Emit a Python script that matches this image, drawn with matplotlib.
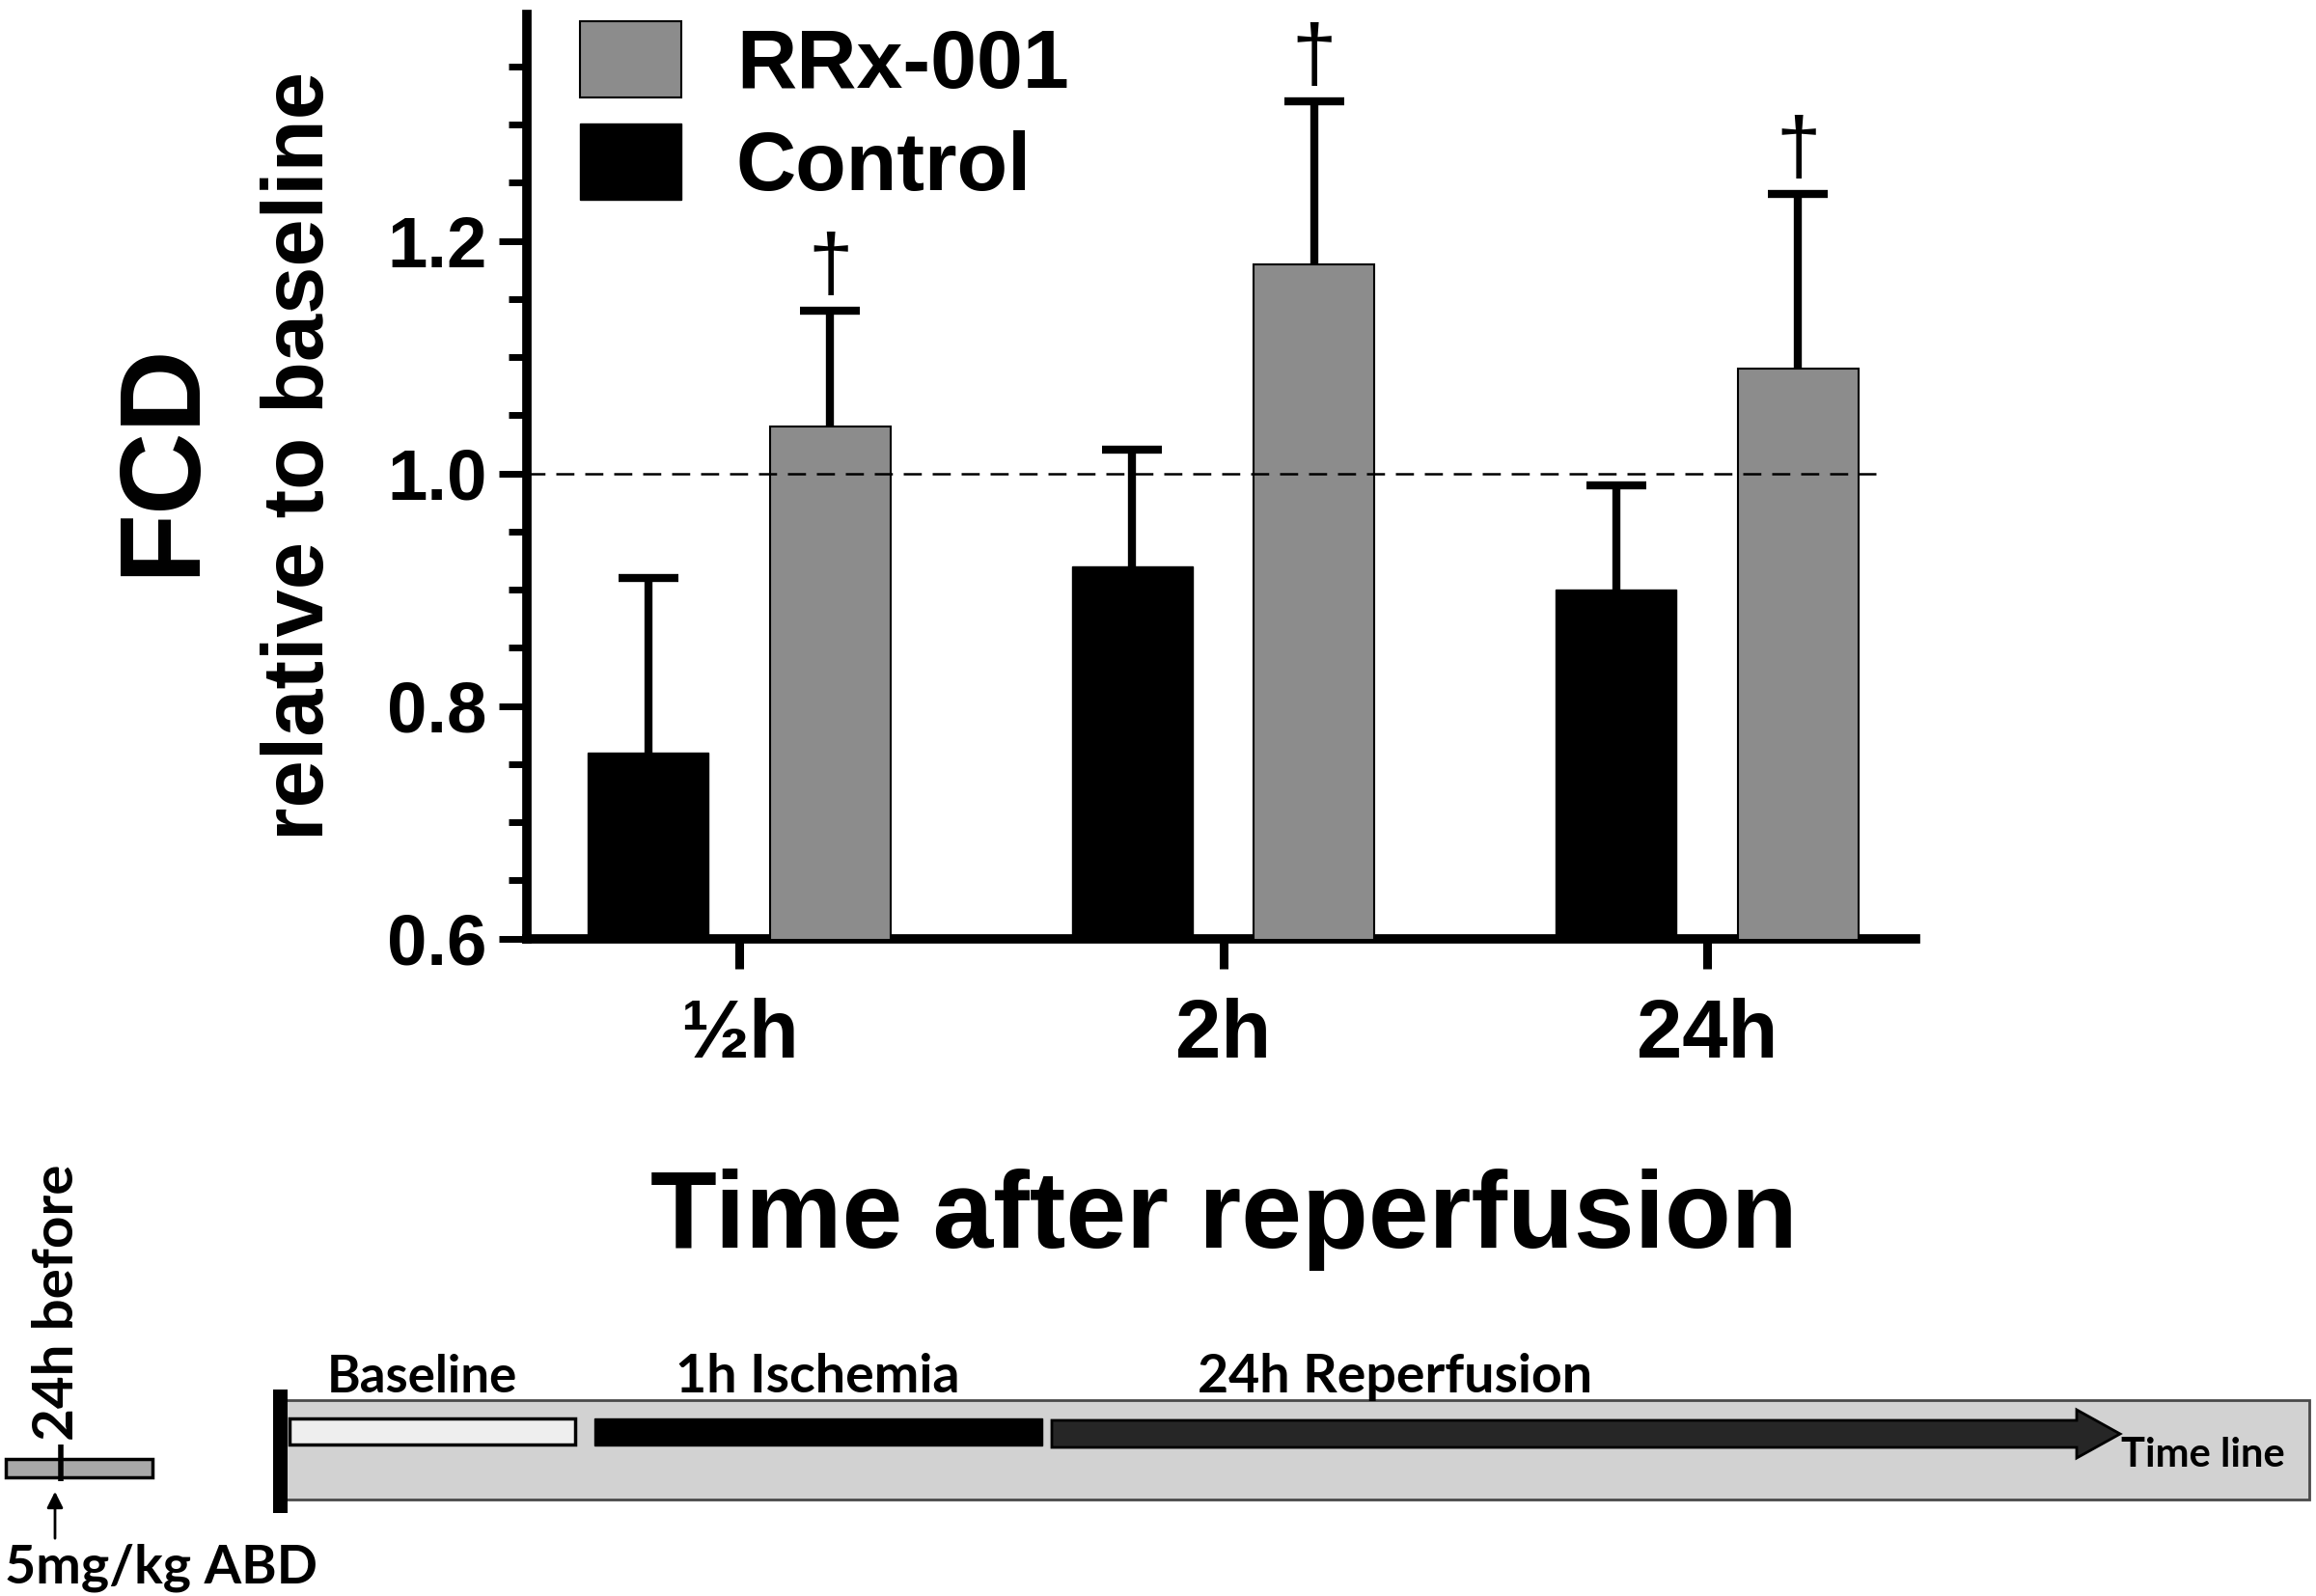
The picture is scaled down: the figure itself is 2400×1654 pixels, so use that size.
import matplotlib
matplotlib.use("Agg")
import matplotlib.pyplot as plt
from matplotlib import font_manager as fm
from matplotlib.patches import Rectangle, FancyArrow
from matplotlib.ticker import FixedLocator
import numpy as np

# ---------------- data ----------------
groups = ["\u00bdh", "2h", "24h"]
control_mean = [0.76, 0.92, 0.90]
control_err = [0.15, 0.10, 0.09]
rrx_mean = [1.04, 1.18, 1.09]
rrx_err = [0.10, 0.14, 0.15]
rrx_signif = ["\u2020", "\u2020", "\u2020"]
baseline_value = 1.0
y_major = [0.6, 0.8, 1.0, 1.2]
y_major_labels = ["0.6", "0.8", "1.0", "1.2"]
series_labels = ["RRx-001", "Control"]
phase_labels = ["Baseline", "1h Ischemia", "24h Reperfusion"]

# ---------------- fonts ----------------
names = {f.name for f in fm.fontManager.ttflist}
if "Liberation Sans Narrow" in names:
    NARROW, SC = "Liberation Sans Narrow", 1.0
else:
    NARROW, SC = "Liberation Sans", 0.85
SANS = ["Lato", "DejaVu Sans"]

W, H = 2400, 1654
fig = plt.figure(figsize=(24, 16.54), dpi=100)

def fx(x):
    return x / W

def fy(y):
    return 1 - y / H

# ---------------- timeline overlay (pixel coords) ----------------
tl = fig.add_axes([0, 0, 1, 1])
tl.set_xlim(0, W)
tl.set_ylim(H, 0)
tl.axis("off")

tl.add_patch(Rectangle((290, 1451), 2103, 103, fc="#d2d2d2", ec="#4a4a4a", lw=2))
tl.add_patch(Rectangle((283, 1440), 15, 128, fc="black", ec="none"))
tl.add_patch(Rectangle((300, 1470), 296, 27, fc="#eeeeee", ec="black", lw=2.5))
tl.add_patch(Rectangle((616, 1470), 464, 28, fc="black", ec="black", lw=1))
tl.add_patch(FancyArrow(1090, 1486, 1107, 0, width=28, head_width=50,
                        head_length=45, length_includes_head=True,
                        fc="#262626", ec="black", lw=2))
tl.text(437, 1443, phase_labels[0], ha="center", va="baseline", fontsize=38,
        fontweight="bold", family=SANS)
tl.text(847, 1443, phase_labels[1], ha="center", va="baseline", fontsize=40,
        fontweight="bold", family=SANS)
tl.text(1446, 1443, phase_labels[2], ha="center", va="baseline", fontsize=40,
        fontweight="bold", family=SANS)
tl.text(2283, 1520, "Time line", ha="center", va="baseline", fontsize=30,
        fontweight="bold", family=SANS)

tl.add_patch(Rectangle((6, 1512), 152, 19, fc="#a8a8a8", ec="black", lw=2.5))
tl.plot([63, 63], [1497, 1535], color="black", lw=4, solid_capstyle="butt")
tl.annotate("", xy=(57, 1543), xytext=(57, 1597),
            arrowprops=dict(arrowstyle="-|>", color="black", lw=2,
                            mutation_scale=25))
tl.text(60, 1350, "24h before", rotation=90, ha="center", va="center",
        fontsize=42, fontweight="bold", family=SANS)
tl.text(5, 1641, "5mg/kg ABD", ha="left", va="baseline", fontsize=40,
        family=SANS, fontweight="bold")

# ---------------- main bar chart ----------------
y0_px, ytop_px = 972.6, 14.6
ax = fig.add_axes([fx(546), fy(y0_px), (1985 - 546) / W, (y0_px - ytop_px) / H])
ax.set_facecolor("none")

x = np.arange(len(groups))
off, bw = 0.188, 0.25
cm = np.array(control_mean)
ce = np.array(control_err)
rm = np.array(rrx_mean)
re = np.array(rrx_err)

b_rrx = ax.bar(x + off, rm, bw, color="#8c8c8c", edgecolor="black", lw=1.5,
               zorder=3, label=series_labels[0])
b_ctl = ax.bar(x - off, cm, bw, color="black", edgecolor="black", lw=1,
               zorder=3, label=series_labels[1])

for xs, m, e in ((x - off, cm, ce), (x + off, rm, re)):
    ax.errorbar(xs, m, yerr=[np.zeros_like(e), e], fmt="none", ecolor="black",
                elinewidth=6, capsize=0, zorder=2)
    ax.plot(xs, m + e, ls="none", marker="_", ms=45, mew=6, color="black",
            zorder=2)

for xi, top, s in zip(x + off, rm + re, rrx_signif):
    ax.annotate(s, xy=(xi, top), xytext=(0, 3), textcoords="offset points",
                ha="center", va="bottom", fontsize=60, family="Liberation Sans")

xlim = (-0.4387, 2.4307)
ax.set_xlim(*xlim)
ax.set_ylim(0.6, 1.395)
ax.plot([xlim[0], 2.349], [baseline_value, baseline_value], color="black",
        lw=1.8, dashes=(7.5, 4.5), zorder=4)

for s in ("top", "right"):
    ax.spines[s].set_visible(False)
for s in ("left", "bottom"):
    ax.spines[s].set_linewidth(7)

ax.set_yticks(y_major)
ax.set_yticklabels(y_major_labels, fontsize=63 * SC, fontweight="bold",
                   family=NARROW)
ax.yaxis.set_minor_locator(FixedLocator(
    [v for v in np.round(np.arange(0.65, 1.36, 0.05), 2) if v not in y_major]))
ax.tick_params(axis="y", which="major", length=21, width=5, pad=9)
ax.tick_params(axis="y", which="minor", length=14, width=5)

ax.set_xticks(x)
ax.set_xticklabels(groups, fontsize=72 * SC, fontweight="bold", family=NARROW)
ax.tick_params(axis="x", which="major", direction="out", length=22, width=6.5,
               pad=22)

leg_fs = 62
ax.legend(handles=[b_rrx, b_ctl], labels=series_labels, loc="upper left",
          bbox_to_anchor=(fx(601), fy(22)), bbox_transform=fig.transFigure,
          frameon=False, prop=dict(family=NARROW, weight="bold", size=leg_fs),
          handlelength=1.22, handleheight=1.04, handletextpad=0.66,
          labelspacing=0.22, borderpad=0, borderaxespad=0)

fig.text(fx(1268), fy(1293), "Time after reperfusion", ha="center",
         va="baseline", fontsize=95.5 * SC, fontweight="bold", family=NARROW)
fig.text(fx(170), fy(476), "FCD", rotation=90, ha="center", va="center",
         fontsize=100 * SC, fontweight="bold", family=NARROW)
fig.text(fx(312), fy(473), "relative to baseline", rotation=90, ha="center",
         va="center", fontsize=75 * SC, fontweight="bold", family=NARROW)

fig.savefig("out.png", dpi=100)
